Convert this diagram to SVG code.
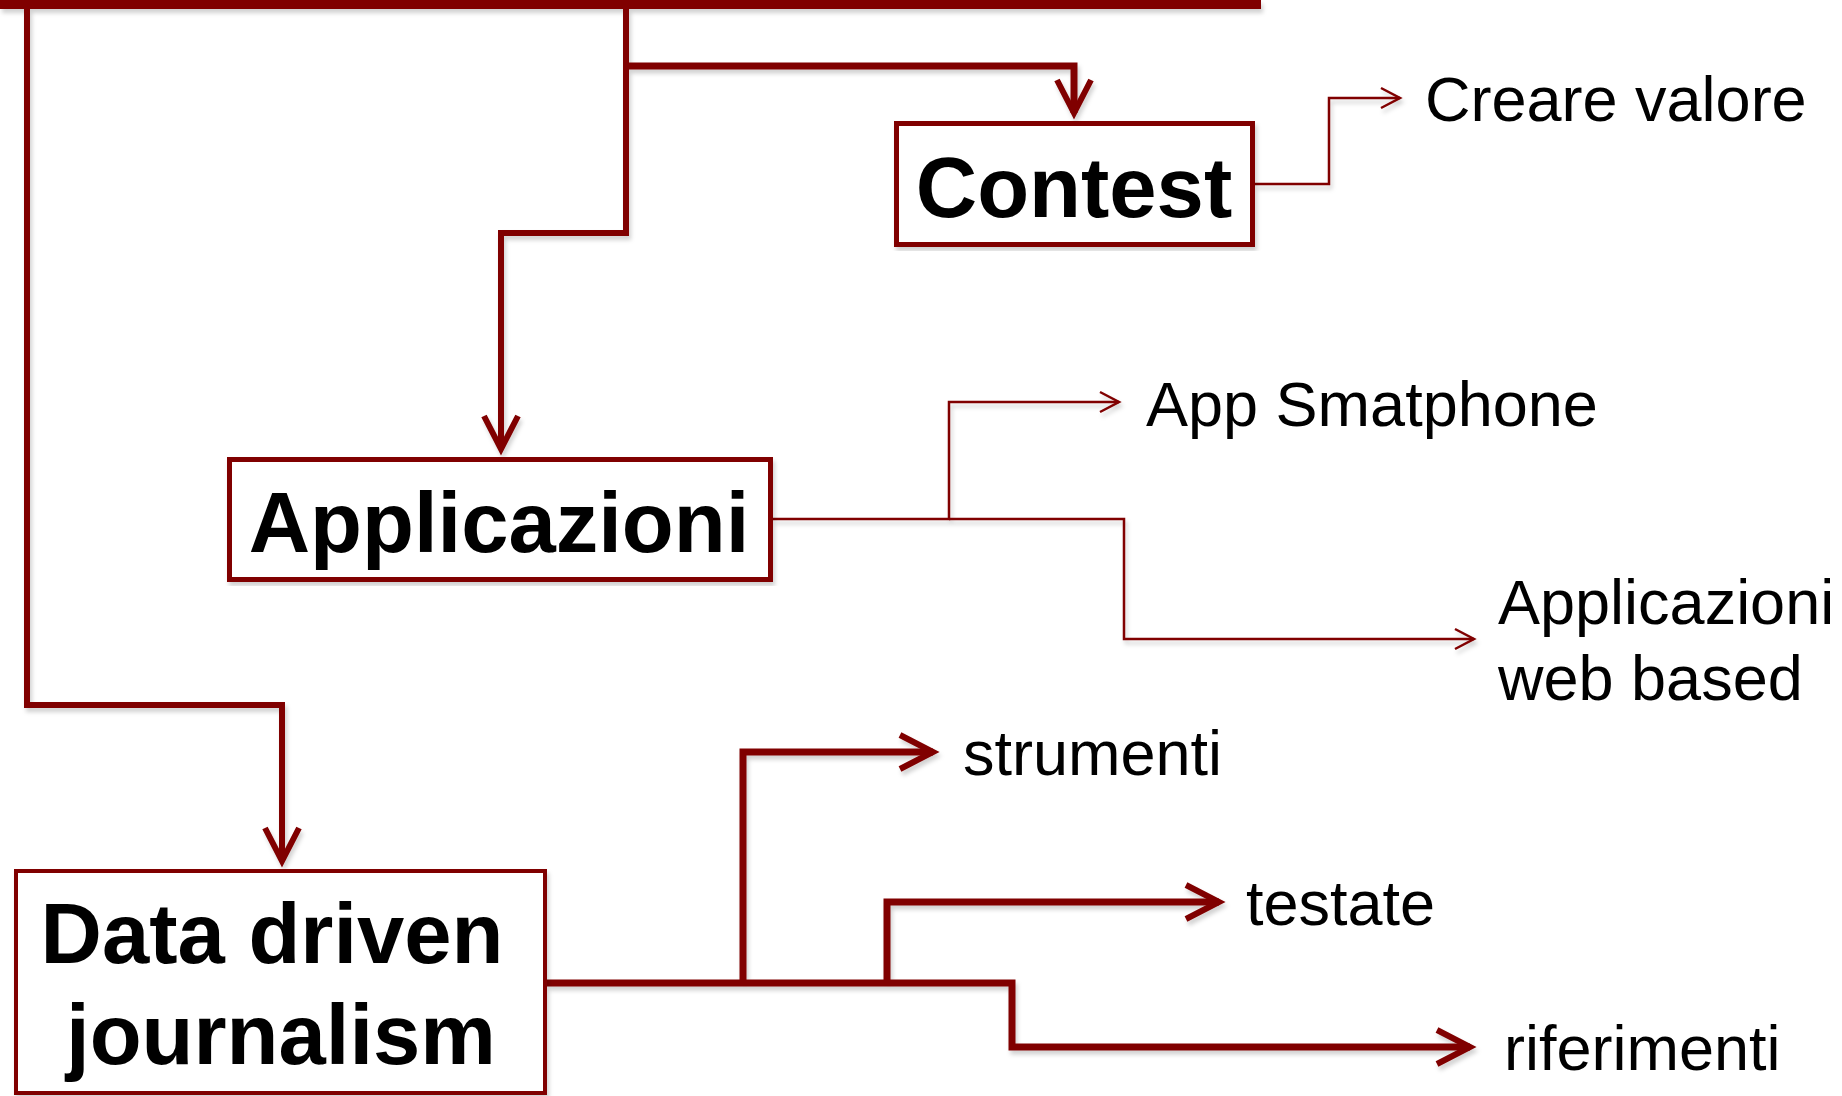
<svg xmlns="http://www.w3.org/2000/svg" width="1842" height="1096" viewBox="0 0 1842 1096">
<style>
.box{fill:#fff;stroke:#800000}
.b{font-family:"Liberation Sans",Arial,sans-serif;font-weight:bold;font-size:85px;fill:#000;text-anchor:middle}
.t{font-family:"Liberation Sans",Arial,sans-serif;font-size:63px;fill:#000}
.c{fill:none;stroke:#800000;stroke-linejoin:miter}
.k{stroke-width:7}
.m{stroke-width:6}
.n{stroke-width:2.5}
</style>
<defs>
<filter id="sh" x="-5%" y="-5%" width="110%" height="110%">
<feDropShadow dx="2" dy="4" stdDeviation="2" flood-color="#000" flood-opacity="0.18"/>
</filter>
<marker id="ak" markerUnits="userSpaceOnUse" orient="auto" refX="0" refY="0" markerWidth="60" markerHeight="60" viewBox="-40 -30 60 60" overflow="visible">
<path d="M -33,-17 L 0,0 L -33,17" fill="none" stroke="#800000" stroke-width="6"/>
</marker>
<marker id="an" markerUnits="userSpaceOnUse" orient="auto" refX="0" refY="0" markerWidth="40" markerHeight="40" viewBox="-25 -15 40 30" overflow="visible">
<path d="M -19,-10 L 0,0 L -19,10" fill="none" stroke="#800000" stroke-width="2.5"/>
</marker>
</defs>
<g id="connectors" filter="url(#sh)">
<rect x="0" y="0" width="1261" height="9" fill="#800000"/>
<path class="c m" d="M 27,9 V 705 H 282 V 861" marker-end="url(#ak)"/>
<path class="c m" d="M 626,9 V 233 H 501 V 449" marker-end="url(#ak)"/>
<path class="c k" d="M 626,66 H 1074 V 113" marker-end="url(#ak)"/>
<path class="c n" d="M 1255,184 H 1329 V 98 H 1400" marker-end="url(#an)"/>
<path class="c n" d="M 773,519 H 949 V 402 H 1119" marker-end="url(#an)"/>
<path class="c n" d="M 949,519 H 1124 V 639 H 1474" marker-end="url(#an)"/>
<path class="c k" d="M 547,983 H 1012 V 1047 H 1470" marker-end="url(#ak)"/>
<path class="c k" d="M 743,983 V 752 H 933" marker-end="url(#ak)"/>
<path class="c k" d="M 887,983 V 902 H 1219" marker-end="url(#ak)"/>
</g>
<g id="node-contest">
<rect class="box" x="896.5" y="123.5" width="356" height="121" stroke-width="5" filter="url(#sh)"/>
<text class="b" x="1074" y="217">Contest</text>
</g>
<g id="node-applicazioni">
<rect class="box" x="229.5" y="459.5" width="541" height="120" stroke-width="5" filter="url(#sh)"/>
<text class="b" x="499" y="552">Applicazioni</text>
</g>
<g id="node-data">
<rect class="box" x="16" y="871" width="529" height="222" stroke-width="4" filter="url(#sh)"/>
<text class="b" x="272" y="963">Data driven</text>
<text class="b" x="281" y="1064">journalism</text>
</g>
<g id="node-creare"><text class="t" x="1425" y="121">Creare valore</text></g>
<g id="node-app"><text class="t" x="1146" y="426">App Smatphone</text></g>
<g id="node-web"><text class="t" x="1498" y="624">Applicazioni</text><text class="t" x="1498" y="700">web based</text></g>
<g id="node-strumenti"><text class="t" x="963" y="775">strumenti</text></g>
<g id="node-testate"><text class="t" x="1246" y="925">testate</text></g>
<g id="node-riferimenti"><text class="t" x="1504" y="1070">riferimenti</text></g>
</svg>
